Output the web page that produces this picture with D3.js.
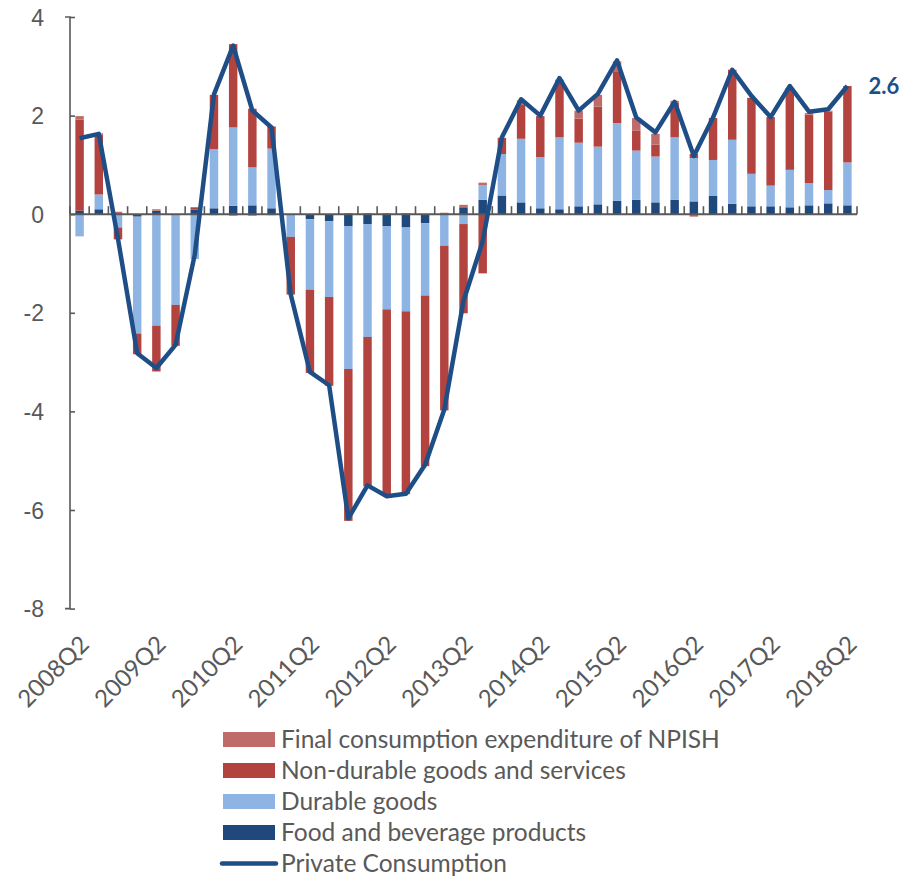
<!DOCTYPE html>
<html>
<head>
<meta charset="utf-8">
<script src="https://cdn.jsdelivr.net/npm/d3@7/dist/d3.min.js"></script>
<style>
  html, body { margin: 0; padding: 0; background: #fff; }
  svg { display: block; font-family: Lato, "Open Sans", sans-serif; }
</style>
</head>
<body>
<svg id="chart" width="920" height="877"></svg>
<script>
// Quarters shown on the x axis
const quarters = [
  "2008Q2","2008Q3","2008Q4","2009Q1","2009Q2","2009Q3","2009Q4","2010Q1",
  "2010Q2","2010Q3","2010Q4","2011Q1","2011Q2","2011Q3","2011Q4","2012Q1",
  "2012Q2","2012Q3","2012Q4","2013Q1","2013Q2","2013Q3","2013Q4","2014Q1",
  "2014Q2","2014Q3","2014Q4","2015Q1","2015Q2","2015Q3","2015Q4","2016Q1",
  "2016Q2","2016Q3","2016Q4","2017Q1","2017Q2","2017Q3","2017Q4","2018Q1",
  "2018Q2"
];
const tickLabels = ["2008Q2","2009Q2","2010Q2","2011Q2","2012Q2","2013Q2",
  "2014Q2","2015Q2","2016Q2","2017Q2","2018Q2"];
const yTicks = [-8, -6, -4, -2, 0, 2, 4];

// Contributions to private consumption growth (pp)
const food = [0.07,0.10,0.00,-0.05,0.07,0.00,0.09,0.12,0.17,0.18,0.12,0.00,-0.10,-0.14,-0.24,-0.20,-0.24,-0.27,-0.18,0.00,0.14,0.29,0.38,0.24,0.12,0.10,0.16,0.20,0.27,0.29,0.24,0.29,0.26,0.37,0.21,0.16,0.16,0.14,0.18,0.22,0.18];
const durable = [-0.45,0.30,-0.27,-2.37,-2.26,-1.84,-0.91,1.20,1.59,0.77,1.21,-0.46,-1.43,-1.54,-2.90,-2.29,-1.69,-1.70,-1.47,-0.64,-0.20,0.30,0.84,1.29,1.04,1.46,1.29,1.17,1.58,1.00,0.93,1.27,0.88,0.73,1.30,0.66,0.42,0.76,0.45,0.27,0.87];
const nonDurable = [1.85,1.22,-0.24,-0.42,-0.93,-0.83,0.05,1.10,1.69,1.19,0.45,-1.17,-1.69,-1.80,-3.08,-3.03,-3.78,-3.71,-3.46,-3.34,-1.81,-1.20,0.33,0.70,0.83,1.12,0.49,0.81,1.05,0.41,0.24,0.70,0.08,0.85,1.42,1.54,1.39,1.66,1.39,1.59,1.55];
const npish = [0.07,0.02,0.05,0.00,0.03,0.00,0.00,-0.02,-0.03,-0.03,-0.02,0.00,0.00,0.00,0.02,0.02,0.02,0.02,0.00,0.03,0.05,0.05,0.00,0.08,0.00,0.05,0.16,0.24,0.20,0.25,0.22,0.04,-0.05,0.00,0.00,0.00,0.00,0.00,0.03,0.02,0.00];
// Private consumption, y-o-y growth (%)
const privateConsumption = [1.54,1.63,-0.50,-2.82,-3.12,-2.65,-0.82,2.43,3.42,2.10,1.76,-1.63,-3.20,-3.47,-6.17,-5.50,-5.72,-5.67,-5.08,-3.96,-1.76,-0.55,1.56,2.33,2.00,2.76,2.10,2.44,3.12,1.96,1.66,2.28,1.18,1.96,2.93,2.40,1.97,2.60,2.08,2.13,2.60];

const seriesKeys = ["food", "durable", "nonDurable", "npish"];
const seriesNames = {
  npish: "Final consumption expenditure of NPISH",
  nonDurable: "Non-durable goods and services",
  durable: "Durable goods",
  food: "Food and beverage products"
};
const colors = {
  food: "#1f497d",
  durable: "#8eb4e3",
  nonDurable: "#b3433f",
  npish: "#be6b69"
};
const lineColor = "#1f4e87";
const textColor = "#595959";

const rows = quarters.map((q, i) => ({
  q, food: food[i], durable: durable[i], nonDurable: nonDurable[i], npish: npish[i]
}));

const svg = d3.select("#chart");

const x = d3.scaleBand().domain(quarters).range([70, 857]).paddingInner(0.56).paddingOuter(0.28);
const y = d3.scaleLinear().domain([-8, 4]).range([608.6, 17]);

const stack = d3.stack().keys(seriesKeys).offset(d3.stackOffsetDiverging);
const layers = stack(rows);

// stacked bars
svg.append("g").selectAll("g").data(layers).join("g")
  .attr("fill", d => colors[d.key])
  .selectAll("rect").data(d => d).join("rect")
  .attr("x", d => x(d.data.q))
  .attr("width", x.bandwidth())
  .attr("y", d => y(Math.max(d[0], d[1])))
  .attr("height", d => Math.abs(y(d[0]) - y(d[1])));

// y axis
const yAxis = d3.axisLeft(y).tickValues(yTicks).tickSize(-5).tickPadding(26).tickFormat(d => String(d));
const gy = svg.append("g").attr("transform", "translate(70,0)").call(yAxis);
gy.select(".domain").attr("stroke", textColor).attr("stroke-width", 1.6).attr("d", `M-5,${y(4)}H0V${y(-8)}H-5`);
gy.selectAll(".tick line").attr("stroke", textColor).attr("stroke-width", 1.6).attr("x1", 0).attr("x2", 5);
gy.selectAll(".tick text").attr("fill", textColor).attr("font-size", 23).attr("dy", "0.35em");

// x axis along zero line, with tick marks at every band boundary
const step = x.step();
const boundaries = quarters.map((q, i) => 70 + i * step).concat([857]);
const gx = svg.append("g");
gx.append("line").attr("x1", 70).attr("x2", 857).attr("y1", y(0)).attr("y2", y(0))
  .attr("stroke", textColor).attr("stroke-width", 2);
gx.selectAll("line.tk").data(boundaries).join("line").attr("class", "tk")
  .attr("x1", d => d).attr("x2", d => d)
  .attr("y1", y(0)).attr("y2", y(0) - 8)
  .attr("stroke", textColor).attr("stroke-width", 1.6);

// x labels below the plot
svg.append("g").selectAll("text").data(tickLabels).join("text")
  .attr("transform", d => `translate(${x(d) + x.bandwidth() / 2 - 1},${634}) rotate(-45)`)
  .attr("text-anchor", "end")
  .attr("dy", "0.7em")
  .attr("fill", textColor)
  .attr("font-size", 24)
  .text(d => d);

// private consumption line
const line = d3.line()
  .x((d, i) => x(quarters[i]) + x.bandwidth() / 2)
  .y(d => y(d));
svg.append("path").datum(privateConsumption)
  .attr("d", line)
  .attr("fill", "none")
  .attr("stroke", lineColor)
  .attr("stroke-width", 4.5)
  .attr("stroke-linejoin", "round");

// last value label
const lastIdx = privateConsumption.length - 1;
svg.append("text")
  .attr("x", x(quarters[lastIdx]) + x.bandwidth() / 2 + 21)
  .attr("y", y(privateConsumption[lastIdx]))
  .attr("dy", "0.35em")
  .attr("fill", lineColor)
  .attr("font-weight", "bold")
  .attr("font-size", 22)
  .text(d3.format(".1f")(privateConsumption[lastIdx]));

// legend
const legendItems = ["npish", "nonDurable", "durable", "food"];
const lg = svg.append("g").attr("transform", "translate(223,0)");
legendItems.forEach((k, i) => {
  const cy = 739.5 + i * 31;
  lg.append("rect").attr("x", 0).attr("y", cy - 7.5).attr("width", 52).attr("height", 15).attr("fill", colors[k]);
  lg.append("text").attr("x", 58).attr("y", cy).attr("dy", "0.35em")
    .attr("fill", textColor).attr("font-size", 24.5).text(seriesNames[k]);
});
const ly = 739.5 + 4 * 31;
lg.append("line").attr("x1", -1).attr("x2", 53).attr("y1", ly).attr("y2", ly)
  .attr("stroke", lineColor).attr("stroke-width", 4.5).attr("stroke-linecap", "round");
lg.append("text").attr("x", 58).attr("y", ly).attr("dy", "0.35em")
  .attr("fill", textColor).attr("font-size", 24.5).text("Private Consumption");
</script>
</body>
</html>
